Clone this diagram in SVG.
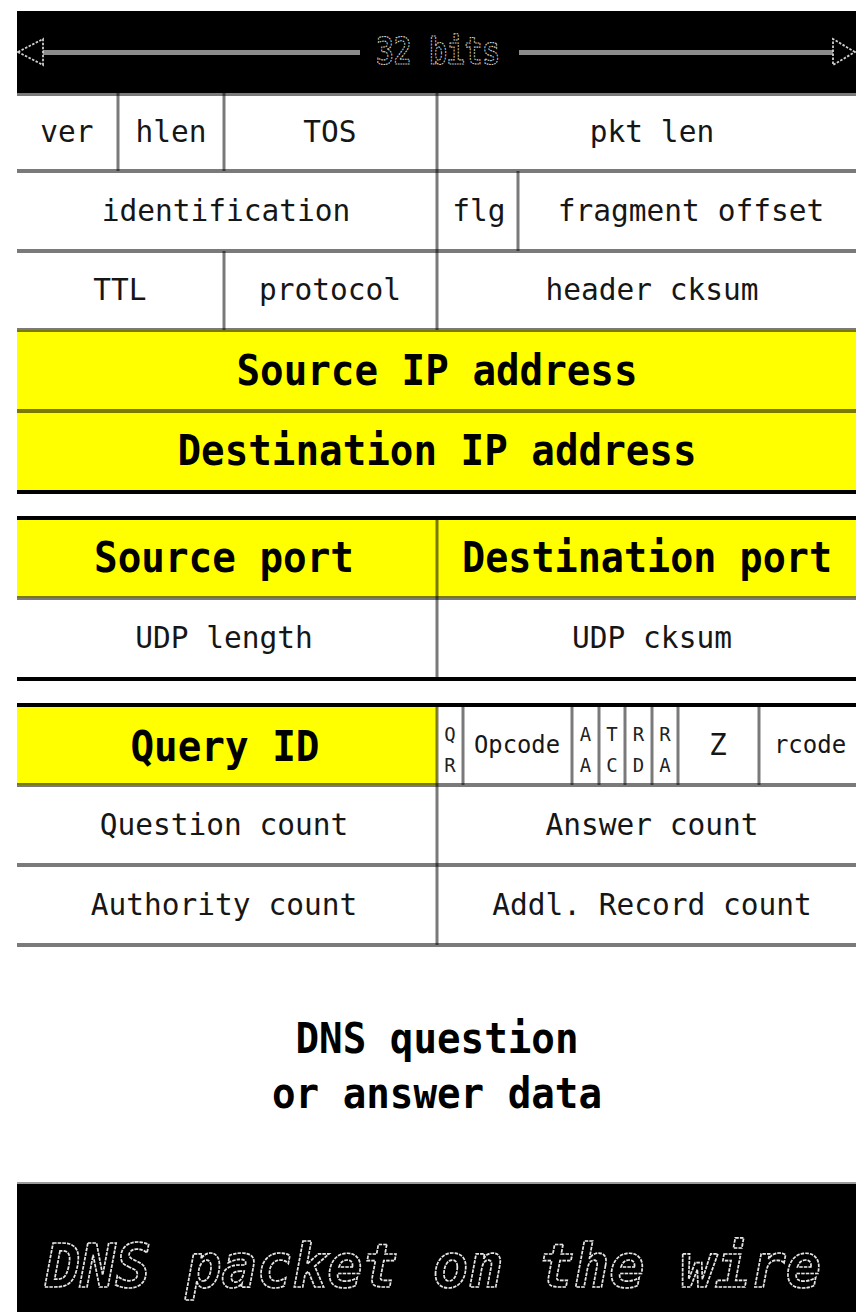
<svg xmlns="http://www.w3.org/2000/svg" width="856" height="1312" viewBox="0 0 856 1312">
  <style>
    .txt { font-family: "DejaVu Sans Mono", "Liberation Mono", monospace; font-size: 29.5px; fill: #161616; text-anchor: middle; }
    .big { font-family: "DejaVu Sans Mono", "Liberation Mono", monospace; font-size: 42px; font-weight: bold; fill: #000; text-anchor: middle; }
    .flag { font-family: "DejaVu Sans Mono", "Liberation Mono", monospace; font-size: 19px; fill: #222; text-anchor: middle; }
    .mid { font-family: "DejaVu Sans Mono", "Liberation Mono", monospace; font-size: 24px; fill: #161616; text-anchor: middle; }
    .grid { stroke: #000; stroke-opacity: 0.52; fill: none; }
    .h { stroke-width: 4; }
    .v { stroke-width: 3; }
    .sep { stroke: #000; stroke-width: 4; }
    .yellow { fill: #ffff00; }
    .outline { fill: #000; stroke: #e6e6e6; stroke-width: 1.7; stroke-dasharray: 3.5 1.2; }
    .head { fill: none; stroke: #d0d0d0; stroke-width: 1.8; stroke-dasharray: 2.5 1.5; }
  </style>

  <rect width="856" height="1312" fill="#fff"/>

  <!-- width banner -->
  <g id="width-banner">
    <rect x="17" y="11" width="839" height="82" fill="#000"/>
    <line x1="43" y1="52.5" x2="360" y2="52.5" stroke="#8c8c8c" stroke-width="5"/>
    <line x1="519" y1="52.5" x2="833" y2="52.5" stroke="#8c8c8c" stroke-width="5"/>
    <polygon class="head" points="18,52 43,39 43,65"/>
    <polygon class="head" points="855,52 833,39 833,65"/>
    <text x="438" y="64" font-family="DejaVu Sans Mono, monospace" font-size="38" font-weight="bold" text-anchor="middle" textLength="124" lengthAdjust="spacingAndGlyphs" fill="#000" stroke="#d0d0d0" stroke-width="1.2" stroke-dasharray="2 1.2">32 bits</text>
  </g>

  <!-- highlighted fields -->
  <rect class="yellow" x="17" y="330" width="839" height="162"/>
  <rect class="yellow" x="17" y="518" width="839" height="80"/>
  <rect class="yellow" x="17" y="705" width="420" height="80"/>

  <!-- field borders -->
  <g id="connectors">
    <path class="grid h" d="M17 94H856 M17 171H856 M17 251H856 M17 330H856 M17 411H856 M17 598H856 M17 785H856 M17 865H856 M17 945H856"/>
    <path class="grid v" d="M118 93V171 M224 93V171 M224 251V330 M437 93V330 M518 171V251 M437 518V679 M437 705V945 M463 705V785 M572 705V785 M599 705V785 M625 705V785 M652 705V785 M678 705V785 M759 705V785"/>
    <path class="sep" d="M17 492H856 M17 518H856 M17 679H856 M17 705H856"/>
  </g>

  <!-- IP header -->
  <g id="ip-ver"><text class="txt" x="67" y="142">ver</text></g>
  <g id="ip-hlen"><text class="txt" x="171" y="142">hlen</text></g>
  <g id="ip-tos"><text class="txt" x="330" y="142">TOS</text></g>
  <g id="ip-pktlen"><text class="txt" x="652" y="142">pkt len</text></g>
  <g id="ip-id"><text class="txt" x="226" y="221">identification</text></g>
  <g id="ip-flg"><text class="txt" x="479" y="221">flg</text></g>
  <g id="ip-fragoff"><text class="txt" x="691" y="221">fragment offset</text></g>
  <g id="ip-ttl"><text class="txt" x="120" y="300">TTL</text></g>
  <g id="ip-proto"><text class="txt" x="330" y="300">protocol</text></g>
  <g id="ip-cksum"><text class="txt" x="652" y="300">header cksum</text></g>
  <g id="ip-src"><text class="big" x="437" y="385" textLength="401" lengthAdjust="spacingAndGlyphs">Source IP address</text></g>
  <g id="ip-dst"><text class="big" x="437" y="465" textLength="519" lengthAdjust="spacingAndGlyphs">Destination IP address</text></g>

  <!-- UDP header -->
  <g id="udp-sport"><text class="big" x="224" y="572" textLength="260" lengthAdjust="spacingAndGlyphs">Source port</text></g>
  <g id="udp-dport"><text class="big" x="647" y="572" font-size="40" textLength="370" lengthAdjust="spacingAndGlyphs">Destination port</text></g>
  <g id="udp-len"><text class="txt" x="224" y="648">UDP length</text></g>
  <g id="udp-cksum"><text class="txt" x="652" y="648">UDP cksum</text></g>

  <!-- DNS header -->
  <g id="dns-qid"><text class="big" x="225" y="761" textLength="189" lengthAdjust="spacingAndGlyphs">Query ID</text></g>
  <g id="dns-qr"><text class="flag" x="450" y="741">Q</text><text class="flag" x="450" y="772">R</text></g>
  <g id="dns-opcode"><text class="mid" x="517" y="753" textLength="86" lengthAdjust="spacingAndGlyphs">Opcode</text></g>
  <g id="dns-aa"><text class="flag" x="585.5" y="741">A</text><text class="flag" x="585.5" y="772">A</text></g>
  <g id="dns-tc"><text class="flag" x="612" y="741">T</text><text class="flag" x="612" y="772">C</text></g>
  <g id="dns-rd"><text class="flag" x="638.5" y="741">R</text><text class="flag" x="638.5" y="772">D</text></g>
  <g id="dns-ra"><text class="flag" x="665" y="741">R</text><text class="flag" x="665" y="772">A</text></g>
  <g id="dns-z"><text class="txt" x="718" y="755" font-size="31">Z</text></g>
  <g id="dns-rcode"><text class="mid" x="810" y="753">rcode</text></g>
  <g id="dns-qdcount"><text class="txt" x="224" y="835">Question count</text></g>
  <g id="dns-ancount"><text class="txt" x="652" y="835">Answer count</text></g>
  <g id="dns-nscount"><text class="txt" x="224" y="915">Authority count</text></g>
  <g id="dns-arcount"><text class="txt" x="652" y="915">Addl. Record count</text></g>

  <!-- payload -->
  <g id="dns-data">
    <text class="big" x="437" y="1053" textLength="283" lengthAdjust="spacingAndGlyphs">DNS question</text>
    <text class="big" x="437" y="1108" textLength="330" lengthAdjust="spacingAndGlyphs">or answer data</text>
  </g>

  <!-- caption banner -->
  <g id="caption">
    <rect x="17" y="1183" width="839" height="129" fill="#000"/>
    <line x1="17" y1="1183" x2="856" y2="1183" stroke="#9a9a9a" stroke-width="2"/>
    <text class="outline" x="433" y="1287" font-family="DejaVu Sans Mono, monospace" font-size="60" font-weight="bold" font-style="italic" text-anchor="middle" textLength="776" lengthAdjust="spacingAndGlyphs">DNS packet on the wire</text>
  </g>
</svg>
